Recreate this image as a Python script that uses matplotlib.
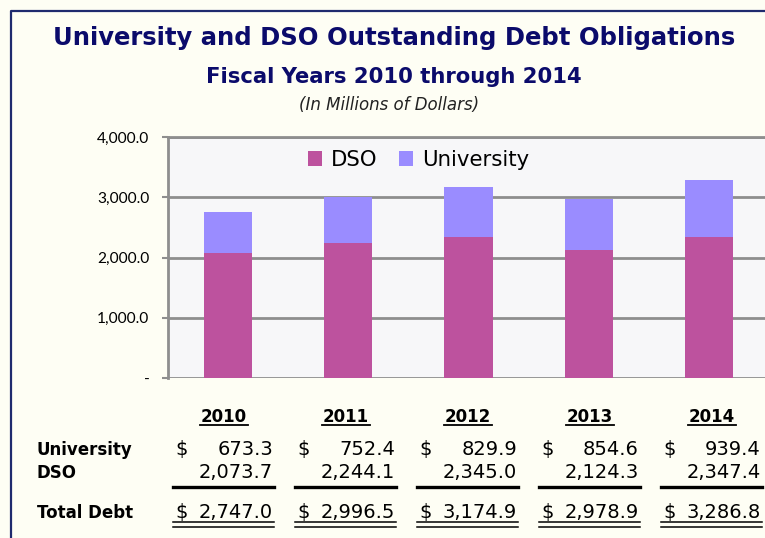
import matplotlib
matplotlib.use("Agg")
import matplotlib.pyplot as plt
from matplotlib.lines import Line2D
import numpy as np

years = ["2010", "2011", "2012", "2013", "2014"]
university = [673.3, 752.4, 829.9, 854.6, 939.4]
dso = [2073.7, 2244.1, 2345.0, 2124.3, 2347.4]
total = [2747.0, 2996.5, 3174.9, 2978.9, 3286.8]
yticks = [0, 1000, 2000, 3000, 4000]
ytick_labels = ["-", "1,000.0", "2,000.0", "3,000.0", "4,000.0"]

W, H = 765, 538
BG = "#FEFEF4"
NAVY = "#0B0B6B"
C_DSO = "#BD529E"
C_UNI = "#9A8CFF"
GRID = "#8E8E8E"

def fx(x):
    return x / W

def fy(y):
    return 1 - y / H

fig = plt.figure(figsize=(W / 100, H / 100), dpi=100, facecolor=BG)

ax = fig.add_axes([fx(168), fy(378), fx(769) - fx(168), fy(137) - fy(378)])
ax.set_facecolor("#F7F7F9")
x = np.arange(len(years))
ax.bar(x, dso, width=0.4, color=C_DSO, label="DSO", zorder=3)
ax.bar(x, university, width=0.4, bottom=dso, color=C_UNI, label="University", zorder=3)
ax.set_xlim(-0.5, len(years) - 0.5)
ax.set_ylim(0, 4000)
ax.set_yticks(yticks)
ax.set_yticklabels(ytick_labels, fontfamily="Lato", fontsize=11.2)
ax.set_xticks([])
ax.yaxis.grid(True, color=GRID, linewidth=2, zorder=1)
for s in ["right", "bottom"]:
    ax.spines[s].set_visible(False)
ax.spines["top"].set_color(GRID)
ax.spines["top"].set_linewidth(2)
ax.spines["left"].set_color(GRID)
ax.spines["left"].set_linewidth(2)
ax.tick_params(axis="y", length=4.3, width=1.5, color=GRID, pad=9)

leg = ax.legend(loc="upper left", bbox_to_anchor=(fx(308), fy(150)),
                bbox_transform=fig.transFigure, ncol=2, frameon=False,
                prop={"family": "DejaVu Sans", "size": 15.3},
                handlelength=0.68, handleheight=0.68, handletextpad=0.4,
                columnspacing=1.0, borderpad=0, borderaxespad=0)

# Titles
fig.text(fx(394), fy(45), "University and DSO Outstanding Debt Obligations",
         ha="center", va="baseline", fontsize=17.5, fontweight="bold",
         color=NAVY, family="DejaVu Sans")
fig.text(fx(394), fy(83), "Fiscal Years 2010 through 2014",
         ha="center", va="baseline", fontsize=15.2, fontweight="bold",
         color=NAVY, family="DejaVu Sans")
fig.text(fx(389), fy(110), "(In Millions of Dollars)",
         ha="center", va="baseline", fontsize=12, style="italic",
         color="#222222", family="DejaVu Sans")

# Border
fig.add_artist(Line2D([fx(11), fx(11), fx(770)], [fy(540), fy(11), fy(11)],
                      transform=fig.transFigure, color="#1F2A6E", linewidth=1.6))

# Table
bf = "DejaVu Sans"
fs_b = 12
fs_n = 14
def fmt(v):
    return f"{v:,.1f}"

for lab, yb in [("University", 455), ("DSO", 478), ("Total Debt", 518)]:
    fig.text(fx(37), fy(yb), lab, ha="left", va="baseline", fontsize=fs_b,
             fontweight="bold", family=bf, color="black")

for i, yr in enumerate(years):
    cx = 223.5 + 122 * i
    dx = 175 + 122 * i
    rx = 273 + 122 * i
    fig.text(fx(cx), fy(422), yr, ha="center", va="baseline", fontsize=fs_b,
             fontweight="bold", family=bf)
    fig.add_artist(Line2D([fx(cx - 24), fx(cx + 24)], [fy(424.5), fy(424.5)],
                          transform=fig.transFigure, color="black", linewidth=1.3))
    fig.text(fx(dx), fy(455), "$", ha="left", va="baseline", fontsize=fs_n, family=bf)
    fig.text(fx(rx), fy(455), fmt(university[i]), ha="right", va="baseline", fontsize=fs_n, family=bf)
    fig.text(fx(rx), fy(478), fmt(dso[i]), ha="right", va="baseline", fontsize=fs_n, family=bf)
    fig.add_artist(Line2D([fx(dx - 2), fx(rx + 1)], [fy(487), fy(487)],
                          transform=fig.transFigure, color="black", linewidth=2.4))
    fig.text(fx(dx), fy(518), "$", ha="left", va="baseline", fontsize=fs_n, family=bf)
    fig.text(fx(rx), fy(518), fmt(total[i]), ha="right", va="baseline", fontsize=fs_n, family=bf)
    for yl in (522, 526.5):
        fig.add_artist(Line2D([fx(dx - 2), fx(rx + 1)], [fy(yl), fy(yl)],
                              transform=fig.transFigure, color="black", linewidth=1.1))

fig.savefig("out.png", dpi=100, facecolor=BG)
